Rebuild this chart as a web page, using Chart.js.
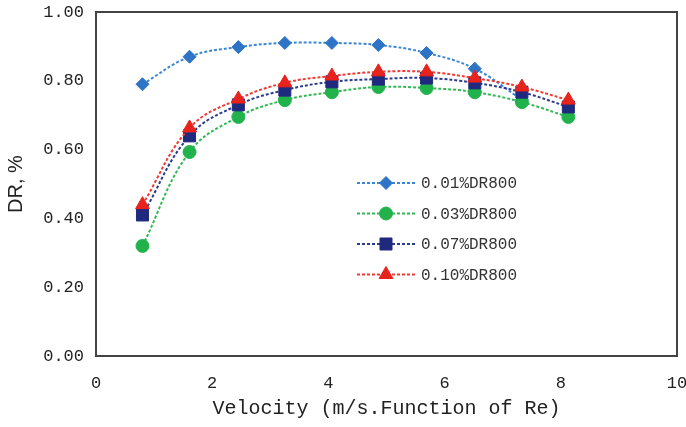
<!DOCTYPE html>
<html>
<head>
<meta charset="utf-8">
<script src="https://cdn.jsdelivr.net/npm/chart.js@4/dist/chart.umd.min.js"></script>
<style>
  html, body { margin: 0; padding: 0; background: #fff; }
  #wrap { width: 686px; height: 427px; }
</style>
</head>
<body>
<div id="wrap"><canvas id="c" width="686" height="427"></canvas></div>
<script>
// Flow velocity for each measurement (m/s)
const velocity = [0.80, 1.61, 2.45, 3.25, 4.06, 4.86, 5.69, 6.52, 7.33, 8.13];

// Drag reduction for each DR800 concentration
const dr001 = [0.79, 0.87, 0.898, 0.91, 0.91, 0.904, 0.881, 0.835, 0.745];
const dr003 = [0.32, 0.593, 0.695, 0.744, 0.767, 0.782, 0.779, 0.767, 0.738, 0.695];
const dr007 = [0.41, 0.64, 0.73, 0.773, 0.797, 0.805, 0.808, 0.794, 0.767, 0.724];
const dr010 = [0.44, 0.663, 0.747, 0.794, 0.814, 0.826, 0.826, 0.808, 0.782, 0.744];

const seriesNames = ['0.01%DR800', '0.03%DR800', '0.07%DR800', '0.10%DR800'];
const yTicks = [0, 0.2, 0.4, 0.6, 0.8, 1.0];
const xTicks = [0, 2, 4, 6, 8, 10];

function pts(vals) {
  return vals.map((v, i) => ({ x: velocity[i], y: v }));
}

const styles = [
  { line: '#3a86d5', fill: '#2d74c6', shape: 'rectRot', r: 6.5 },
  { line: '#2fb855', fill: '#22b24b', shape: 'circle', r: 6.5 },
  { line: '#2b3a8c', fill: '#1f2a7e', shape: 'rect', r: 8.5 },
  { line: '#ef3a36', fill: '#e8231c', shape: 'triangle', r: 8 }
];
const allData = [dr001, dr003, dr007, dr010];

const datasets = allData.map((vals, i) => ({
  label: seriesNames[i],
  data: pts(vals),
  showLine: true,
  borderColor: styles[i].line,
  borderWidth: 2,
  borderDash: [3, 2],
  tension: 0.4,
  pointStyle: styles[i].shape,
  pointRadius: styles[i].r,
  pointHoverRadius: styles[i].r,
  pointBackgroundColor: styles[i].fill,
  pointBorderColor: styles[i].fill,
  pointBorderWidth: 1,
  // later series are painted over earlier ones
  order: allData.length - i
}));

// Frame around the plot area
const framePlugin = {
  id: 'frame',
  beforeDatasetsDraw(chart) {
    const { ctx, chartArea: a } = chart;
    ctx.save();
    ctx.strokeStyle = '#444';
    ctx.lineWidth = 2;
    ctx.strokeRect(a.left, a.top, a.right - a.left, a.bottom - a.top);
    ctx.restore();
  }
};

// Legend drawn inside the plot area
const insideLegend = {
  id: 'insideLegend',
  afterDatasetsDraw(chart) {
    const ctx = chart.ctx;
    const x0 = 357, x1 = 415, xm = 386, xt = 421;
    const y0 = 183, dy = 30.5;
    ctx.save();
    datasets.forEach((ds, i) => {
      const y = y0 + i * dy;
      ctx.beginPath();
      ctx.setLineDash([3, 2]);
      ctx.strokeStyle = ds.borderColor;
      ctx.lineWidth = 2;
      ctx.moveTo(x0, y);
      ctx.lineTo(x1, y);
      ctx.stroke();
      ctx.setLineDash([]);
      ctx.fillStyle = ds.pointBackgroundColor;
      ctx.strokeStyle = ds.pointBorderColor;
      ctx.lineWidth = 1;
      Chart.helpers.drawPoint(ctx, {
        pointStyle: ds.pointStyle,
        radius: ds.pointRadius,
        rotation: 0,
        borderWidth: 1
      }, xm, y);
      ctx.fillStyle = '#333';
      ctx.font = '16px "Liberation Mono", monospace';
      ctx.textBaseline = 'middle';
      ctx.textAlign = 'left';
      ctx.fillText(ds.label, xt, y + 1);
    });
    ctx.restore();
  }
};

function noPad(scale) {
  scale.paddingLeft = 0;
  scale.paddingRight = 0;
  scale.paddingTop = 0;
  scale.paddingBottom = 0;
}

new Chart(document.getElementById('c'), {
  type: 'scatter',
  data: { datasets },
  options: {
    responsive: false,
    animation: false,
    layout: { autoPadding: false, padding: { top: 12, right: 9, left: 0, bottom: 0 } },
    plugins: {
      legend: { display: false },
      tooltip: { enabled: false }
    },
    scales: {
      x: {
        type: 'linear',
        min: 0,
        max: 10,
        afterBuildTicks(scale) { scale.ticks = xTicks.map(v => ({ value: v })); },
        afterFit(scale) { scale.height = 71; noPad(scale); },
        grid: { display: false, drawTicks: false },
        border: { display: false },
        ticks: {
          padding: 17,
          color: '#222',
          font: { family: '"Liberation Mono", monospace', size: 17 },
          maxRotation: 0,
          callback: v => String(v)
        },
        title: {
          display: true,
          text: 'Velocity (m/s.Function of Re)',
          color: '#222',
          font: { family: '"Liberation Mono", monospace', size: 20 },
          padding: { top: 0, bottom: 6 }
        }
      },
      y: {
        type: 'linear',
        min: 0,
        max: 1,
        afterBuildTicks(scale) { scale.ticks = yTicks.map(v => ({ value: v })); },
        afterFit(scale) { scale.width = 96; noPad(scale); },
        grid: { display: false, drawTicks: false },
        border: { display: false },
        ticks: {
          padding: 12,
          color: '#222',
          font: { family: '"Liberation Mono", monospace', size: 17 },
          callback: v => Number(v).toFixed(2)
        },
        title: {
          display: true,
          text: 'DR, %',
          color: '#222',
          font: { family: '"Liberation Sans", Arial, sans-serif', size: 20 },
          padding: { top: 4, bottom: 0 }
        }
      }
    }
  },
  plugins: [framePlugin, insideLegend]
});
</script>
</body>
</html>
